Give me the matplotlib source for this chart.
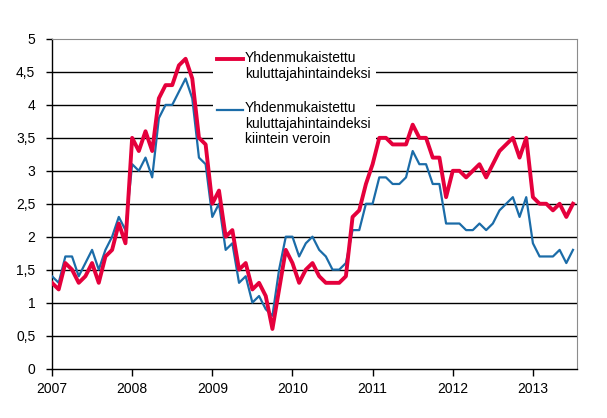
import matplotlib
matplotlib.use('Agg')
import matplotlib.pyplot as plt
from matplotlib.patches import Rectangle

plt.rcParams['font.family'] = ['Liberation Sans', 'DejaVu Sans']

# kuukausittaiset vuosimuutokset 2007/01 - 2013/07
years = ['2007', '2008', '2009', '2010', '2011', '2012', '2013']
ykhi = [1.3, 1.2, 1.6, 1.5, 1.3, 1.4, 1.6, 1.3, 1.7, 1.8, 2.2, 1.9,
        3.5, 3.3, 3.6, 3.3, 4.1, 4.3, 4.3, 4.6, 4.7, 4.4, 3.5, 3.4,
        2.5, 2.7, 2.0, 2.1, 1.5, 1.6, 1.2, 1.3, 1.1, 0.6, 1.2, 1.8,
        1.6, 1.3, 1.5, 1.6, 1.4, 1.3, 1.3, 1.3, 1.4, 2.3, 2.4, 2.8,
        3.1, 3.5, 3.5, 3.4, 3.4, 3.4, 3.7, 3.5, 3.5, 3.2, 3.2, 2.6,
        3.0, 3.0, 2.9, 3.0, 3.1, 2.9, 3.1, 3.3, 3.4, 3.5, 3.2, 3.5,
        2.6, 2.5, 2.5, 2.4, 2.5, 2.3, 2.5]
ykhi_kv = [1.4, 1.3, 1.7, 1.7, 1.4, 1.6, 1.8, 1.5, 1.8, 2.0, 2.3, 2.1,
           3.1, 3.0, 3.2, 2.9, 3.8, 4.0, 4.0, 4.2, 4.4, 4.1, 3.2, 3.1,
           2.3, 2.5, 1.8, 1.9, 1.3, 1.4, 1.0, 1.1, 0.9, 0.8, 1.5, 2.0,
           2.0, 1.7, 1.9, 2.0, 1.8, 1.7, 1.5, 1.5, 1.6, 2.1, 2.1, 2.5,
           2.5, 2.9, 2.9, 2.8, 2.8, 2.9, 3.3, 3.1, 3.1, 2.8, 2.8, 2.2,
           2.2, 2.2, 2.1, 2.1, 2.2, 2.1, 2.2, 2.4, 2.5, 2.6, 2.3, 2.6,
           1.9, 1.7, 1.7, 1.7, 1.8, 1.6, 1.8]
label_red = 'Yhdenmukaistettu\nkuluttajahintaindeksi'
label_blue = 'Yhdenmukaistettu\nkuluttajahintaindeksi\nkiintein veroin'

RED = '#E5003C'
BLUE = '#1B6CA8'
W, H = 607, 418

fig = plt.figure(figsize=(W / 100, H / 100), dpi=100)
ax = fig.add_axes([52 / W, 1 - 368.5 / H, (577 - 52) / W, (368.5 - 39) / H])

x = list(range(len(ykhi)))
yt = [i * 0.5 for i in range(11)]
ax.hlines(yt[1:-1], 0, 78.6, color='black', lw=1.0, zorder=1)
ax.plot(x, ykhi_kv, color=BLUE, lw=1.6, zorder=3)
ax.plot(x, ykhi, color=RED, lw=2.8, zorder=4)

ax.set_xlim(0, 78.6)
ax.set_ylim(0, 5)
ax.set_yticks(yt)
ax.set_yticklabels([('%g' % v).replace('.', ',') for v in yt])
ax.set_xticks(range(0, 73, 12))
ax.set_xticklabels(years)
ax.tick_params(axis='y', length=4, width=1, pad=8, labelsize=10)
ax.tick_params(axis='x', length=5, width=1, pad=5, labelsize=10)
for s in ['top', 'right']:
    ax.spines[s].set_color('#8c8c8c')
    ax.spines[s].set_linewidth(0.8)
for s in ['left', 'bottom']:
    ax.spines[s].set_color('black')
    ax.spines[s].set_linewidth(1.0)

# selite
tf = fig.transFigure
def fx(px):
    return px / W
def fy(py):
    return 1 - py / H

ax.add_patch(Rectangle((fx(213), fy(152)), fx(376) - fx(213), (152 - 44) / H,
                       transform=tf, facecolor='white', edgecolor='none',
                       zorder=2, clip_on=False))
ax.plot([fx(217), fx(243)], [fy(59), fy(59)], transform=tf, color=RED,
        lw=2.8, clip_on=False, zorder=5)
ax.plot([fx(217), fx(243)], [fy(109.5), fy(109.5)], transform=tf, color=BLUE,
        lw=1.6, clip_on=False, zorder=5)
ax.text(fx(245), fy(51), label_red, transform=tf, fontsize=10, va='top',
        ha='left', linespacing=1.15, zorder=5)
ax.text(fx(245), fy(101), label_blue, transform=tf, fontsize=10, va='top',
        ha='left', linespacing=1.15, zorder=5)

fig.savefig('out.png', dpi=100)
